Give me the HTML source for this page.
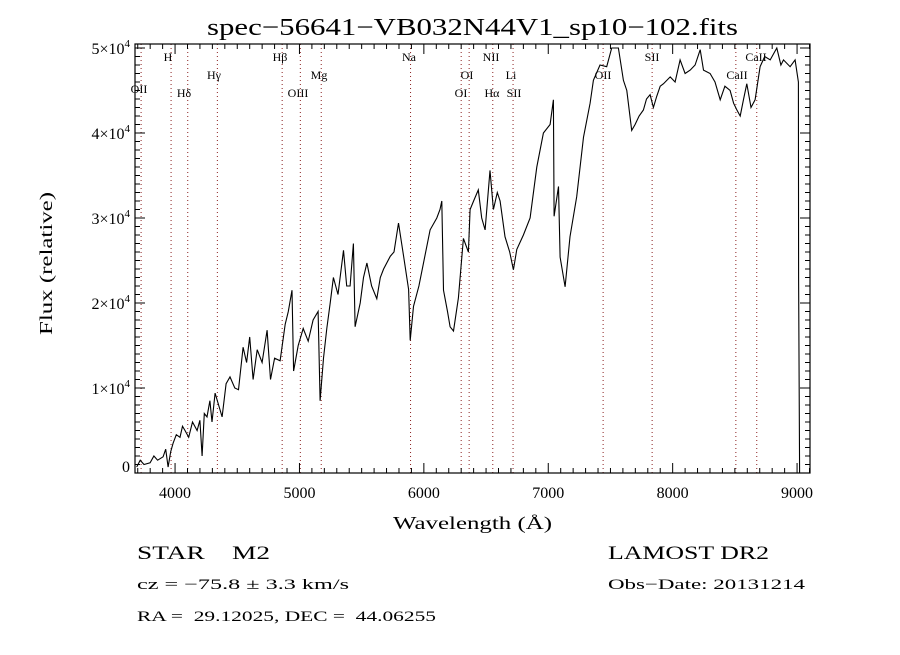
<!DOCTYPE html>
<html><head><meta charset="utf-8"><style>
body{margin:0;background:#fff}
svg text{font-family:"Liberation Serif",serif;fill:#000}
</style></head><body>
<svg id="c" width="900" height="650" xmlns="http://www.w3.org/2000/svg">
<rect width="900" height="650" fill="#fff"/>
<text x="207" y="35" font-size="24" textLength="531" lengthAdjust="spacingAndGlyphs">spec−56641−VB032N44V1_sp10−102.fits</text>
<text x="393" y="529" font-size="18" textLength="159" lengthAdjust="spacingAndGlyphs">Wavelength (Å)</text>
<text transform="translate(52,335) rotate(-90)" font-size="18" textLength="143" lengthAdjust="spacingAndGlyphs">Flux (relative)</text>
<text x="137" y="559" font-size="19" textLength="133" lengthAdjust="spacingAndGlyphs" xml:space="preserve">STAR    M2</text>
<text x="137" y="589" font-size="15" textLength="212" lengthAdjust="spacingAndGlyphs">cz = −75.8 ± 3.3 km/s</text>
<text x="137" y="621" font-size="15" textLength="299" lengthAdjust="spacingAndGlyphs" xml:space="preserve">RA =  29.12025, DEC =  44.06255</text>
<text x="608" y="559" font-size="19" textLength="161" lengthAdjust="spacingAndGlyphs">LAMOST DR2</text>
<text x="608" y="589" font-size="15" textLength="197" lengthAdjust="spacingAndGlyphs">Obs−Date: 20131214</text>
<g id="g"></g>
</svg>
<script>
const wavelengths=[3692,3720,3750,3799,3830,3860,3904,3925,3944,3965,3984,4010,4040,4060,4080,4110,4140,4177,4200,4217,4235,4257,4280,4297,4322,4350,4378,4410,4442,4480,4510,4547,4575,4600,4627,4660,4700,4740,4767,4800,4844,4885,4910,4940,4953,4990,5030,5070,5110,5150,5166,5193,5220,5247,5273,5310,5354,5380,5407,5434,5447,5488,5515,5542,5580,5622,5650,5676,5730,5760,5796,5837,5877,5890,5917,5960,5997,6050,6104,6130,6144,6158,6190,6211,6238,6278,6318,6358,6372,6400,6438,6465,6492,6532,6559,6590,6613,6652,6690,6720,6747,6800,6854,6908,6961,7015,7041,7047,7082,7095,7135,7175,7229,7283,7336,7363,7416,7470,7510,7564,7604,7631,7671,7698,7730,7765,7790,7819,7845,7872,7900,7926,7980,8020,8060,8100,8141,8180,8221,8248,8301,8340,8382,8420,8462,8490,8516,8543,8570,8596,8630,8663,8703,8740,8784,8837,8870,8891,8944,8984,9011,9012,9020];
const fluxValues=[0.07,0.15,0.1,0.12,0.2,0.15,0.19,0.28,0.07,0.25,0.35,0.45,0.42,0.55,0.5,0.42,0.6,0.5,0.62,0.2,0.7,0.66,0.85,0.6,0.94,0.8,0.66,1.05,1.13,1.0,0.98,1.48,1.3,1.6,1.1,1.45,1.3,1.68,1.1,1.35,1.32,1.75,1.9,2.15,1.2,1.5,1.7,1.55,1.8,1.9,0.85,1.35,1.7,2.0,2.3,2.1,2.62,2.2,2.2,2.7,1.72,2.0,2.3,2.47,2.2,2.05,2.3,2.4,2.55,2.6,2.94,2.55,2.16,1.56,1.96,2.2,2.47,2.86,3.0,3.1,3.2,2.15,1.9,1.72,1.67,2.06,2.76,2.6,3.1,3.2,3.33,3.0,2.86,3.56,3.1,3.3,3.2,2.78,2.6,2.39,2.63,2.8,3.0,3.6,4.0,4.1,4.39,3.02,3.37,2.54,2.19,2.78,3.25,3.95,4.35,4.62,4.8,4.78,5.0,5.0,4.62,4.5,4.03,4.1,4.2,4.27,4.4,4.45,4.3,4.43,4.55,4.58,4.66,4.6,4.86,4.7,4.74,4.8,4.98,4.74,4.7,4.6,4.39,4.55,4.5,4.35,4.27,4.2,4.4,4.58,4.3,4.39,4.78,4.9,4.86,5.0,4.8,4.86,4.78,4.86,4.6,2.3,0.0];
const lineWaves=[3727,3968,4102,4340,4861,5007,5175,5893,6300,6364,6554,6717,7441,7835,8508,8676];
const lineLabels=[["OII",139,93],["H",168,61],["Hδ",184,97],["Hγ",214,79],["Hβ",280,61],["OIII",298,97],["Mg",319,79],["Na",409,61],["OI",461,97],["OI",467,79],["NII",491,61],["Hα",492,97],["Li",511,79],["SII",514,97],["OII",603,79],["SII",652,61],["CaII",737,79],["CaII",756,61]];
const xTicks=[4000,5000,6000,7000,8000,9000];
const yTicks=[0,1,2,3,4,5];
const L=135,R=810,T=44,B=473,X0=3678,X1=9104,Y0=0,Y1=5.047;
const sx=v=>L+(v-X0)/(X1-X0)*(R-L);
const sy=v=>B-(v-Y0)/(Y1-Y0)*(B-T);
const NS="http://www.w3.org/2000/svg",g=document.getElementById('g');
function mk(t,a){const e=document.createElementNS(NS,t);for(const k in a)e.setAttribute(k,a[k]);g.appendChild(e);return e;}
lineWaves.forEach(w=>{const e=mk('line',{x1:sx(w),x2:sx(w),y1:T,y2:B,stroke:'#8b2020','stroke-width':1,'stroke-dasharray':'1,3'});

});
lineLabels.forEach(l=>{const e=mk('text',{x:l[1],y:l[2],'font-size':12,'text-anchor':'middle'});e.textContent=l[0];

});
let d='';wavelengths.forEach((w,i)=>{d+=(i?'L':'M')+sx(w).toFixed(1)+','+Math.max(T,sy(fluxValues[i])).toFixed(1);});
const p=mk('path',{d:d,fill:'none',stroke:'#000','stroke-width':1.1});


const f=mk('rect',{x:L,y:T,width:R-L,height:B-T,fill:'none',stroke:'#000','stroke-width':1.2});


for(let w=3700;w<=9100;w+=100){const len=(w%1000==0)?10:5;
mk('line',{x1:sx(w),x2:sx(w),y1:B,y2:B-len,stroke:'#000'});mk('line',{x1:sx(w),x2:sx(w),y1:T,y2:T+len,stroke:'#000'});}
for(let v=0;v<=50;v++){const y=sy(v/10);const len=(v%10==0)?10:5;
mk('line',{x1:L,x2:L+len,y1:y,y2:y,stroke:'#000'});mk('line',{x1:R,x2:R-len,y1:y,y2:y,stroke:'#000'});}
xTicks.forEach(t=>{const e=mk('text',{x:sx(t)-16,y:B+25,'font-size':16,textLength:32,lengthAdjust:'spacingAndGlyphs'});e.textContent=t;

});
yTicks.forEach(t=>{const e=mk('text',{x:130,y:Math.min(sy(t)+6,472),'font-size':16,'text-anchor':'end'});
if(t===0){e.textContent='0';}else{e.textContent=t+'×10';const s=document.createElementNS(NS,'tspan');s.setAttribute('dy',-7);s.setAttribute('font-size',11);s.textContent='4';e.appendChild(s);}

});
</script>
</body></html>
